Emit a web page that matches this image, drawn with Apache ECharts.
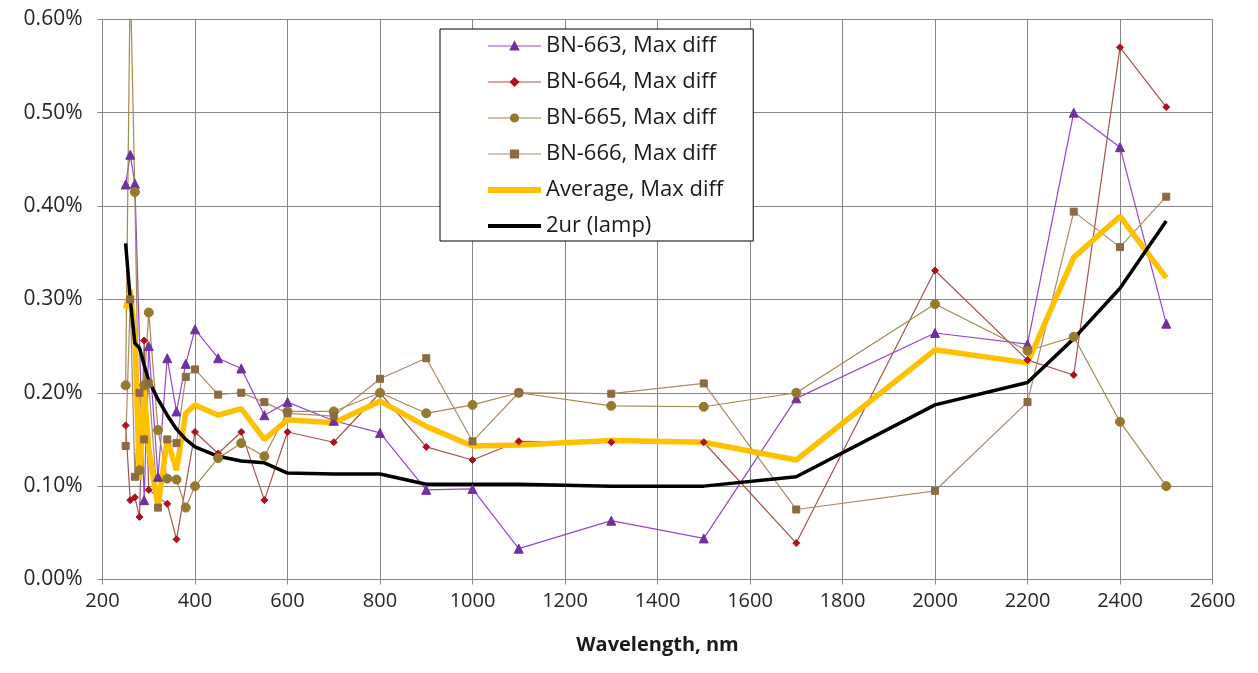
<!DOCTYPE html>
<html>
<head>
<meta charset="utf-8">
<script src="https://cdn.jsdelivr.net/npm/echarts@6/dist/echarts.min.js"></script>
<style>
  html, body { margin: 0; padding: 0; background: #fff; }
  #chart { width: 1258px; height: 673px; }
</style>
</head>
<body>
<div id="chart"></div>
<script>
// wavelengths (nm), shared by every series
const wavelengths = [250, 260, 270, 280, 290, 300, 320, 340, 360, 380,
  400, 450, 500, 550, 600, 700, 800, 900, 1000, 1100,
  1300, 1500, 1700, 2000, 2200, 2300, 2400, 2500];

// values in %
const bn663 = [0.423, 0.455, 0.424, null, 0.085, 0.250, 0.110, 0.237, 0.180, 0.231,
  0.268, 0.237, 0.226, 0.176, 0.190, 0.170, 0.157, 0.096, 0.097, 0.033,
  0.063, 0.044, 0.194, 0.264, 0.252, 0.500, 0.463, 0.274];
const bn664 = [0.165, 0.085, 0.088, 0.067, 0.256, 0.096, null, 0.081, 0.043, null,
  0.158, 0.135, 0.158, 0.085, 0.158, 0.147, 0.200, 0.142, 0.128, 0.148,
  0.147, 0.147, 0.039, 0.331, 0.235, 0.219, 0.570, 0.506];
const bn665 = [0.208, 0.650, 0.415, 0.117, 0.208, 0.286, 0.160, 0.108, 0.107, 0.077,
  0.100, 0.130, 0.146, 0.132, 0.180, 0.180, 0.200, 0.178, 0.187, 0.200,
  0.186, 0.185, 0.200, 0.295, 0.245, 0.260, 0.169, 0.100];
const bn666 = [0.143, 0.300, 0.110, 0.200, 0.150, 0.210, 0.077, 0.150, 0.146, 0.217,
  0.225, 0.198, 0.200, 0.190, 0.178, 0.175, 0.215, 0.237, 0.148, 0.200,
  0.199, 0.210, 0.075, 0.095, 0.190, 0.394, 0.356, 0.410];
const avgDiff = [0.290, 0.310, 0.260, 0.107, 0.203, 0.140, 0.078, 0.150, 0.117, 0.178,
  0.187, 0.176, 0.183, 0.150, 0.171, 0.168, 0.191, 0.164, 0.143, 0.144,
  0.149, 0.147, 0.128, 0.246, 0.232, 0.345, 0.389, 0.323];
const lamp2ur = [0.360, 0.300, 0.253, 0.248, 0.230, 0.213, 0.193, 0.176, 0.161, 0.150,
  0.142, 0.132, 0.127, 0.125, 0.114, 0.113, 0.113, 0.102, 0.102, 0.102,
  0.100, 0.100, 0.110, 0.187, 0.211, 0.258, 0.312, 0.384];

const FONT = '"Open Sans", "Liberation Sans", sans-serif';

function pairs(vals) {
  const out = [];
  wavelengths.forEach((w, i) => { if (vals[i] != null) out.push([w, vals[i]]); });
  return out;
}

function markerSeries(name, vals, symbol, size, lineColor, markColor) {
  return {
    name: name,
    type: 'line',
    data: pairs(vals),
    symbol: symbol,
    symbolSize: size,
    showAllSymbol: true,
    lineStyle: { color: lineColor, width: 1.2 },
    itemStyle: { color: markColor, borderColor: markColor, borderWidth: 1 },
    emphasis: { disabled: true }
  };
}

const chart = echarts.init(document.getElementById('chart'));
const option = {
  backgroundColor: '#ffffff',
  animation: false,
  grid: { left: 102.5, right: 45.5, top: 19.3, bottom: 93.5, containLabel: false, outerBoundsMode: 'none' },
  legend: {
    orient: 'vertical',
    left: 440,
    top: 29,
    padding: [6, 30, 4, 45],
    itemWidth: 53,
    itemHeight: 9,
    itemGap: 14,
    backgroundColor: '#ffffff',
    borderColor: '#000000',
    borderWidth: 1,
    borderRadius: 0,
    textStyle: { fontFamily: FONT, fontSize: 22, color: '#1a1a1a', lineHeight: 22 },
    data: [
      { name: 'BN-663, Max diff', lineStyle: { width: 1.2 } },
      { name: 'BN-664, Max diff', lineStyle: { width: 1.2 } },
      { name: 'BN-665, Max diff', lineStyle: { width: 1.2 } },
      { name: 'BN-666, Max diff', lineStyle: { width: 1.2 } },
      { name: 'Average, Max diff', itemStyle: { opacity: 0 }, lineStyle: { width: 6 } },
      { name: '2ur (lamp)', itemStyle: { opacity: 0 }, lineStyle: { width: 4 } }
    ]
  },
  xAxis: {
    type: 'value',
    min: 200,
    max: 2600,
    interval: 200,
    name: 'Wavelength, nm',
    nameLocation: 'middle',
    nameGap: 56,
    nameTextStyle: { fontFamily: FONT, fontSize: 20, fontWeight: 'bold', color: '#1a1a1a' },
    axisLine: { show: true, lineStyle: { color: '#868686', width: 1 } },
    axisTick: { show: true, length: 5, lineStyle: { color: '#868686' } },
    axisLabel: { fontFamily: FONT, fontSize: 20, color: '#262626', margin: 12, formatter: v => String(v) },
    splitLine: { show: true, lineStyle: { color: '#868686', width: 1 } }
  },
  yAxis: {
    type: 'value',
    min: 0,
    max: 0.6,
    interval: 0.1,
    axisLine: { show: true, lineStyle: { color: '#868686', width: 1 } },
    axisTick: { show: true, length: 5, lineStyle: { color: '#868686' } },
    axisLabel: {
      fontFamily: FONT, fontSize: 21, color: '#262626', margin: 20,
      formatter: v => v.toFixed(2) + '%'
    },
    splitLine: { show: true, lineStyle: { color: '#868686', width: 1 } }
  },
  series: [
    markerSeries('BN-663, Max diff', bn663, 'triangle', 9, '#9346D0', '#7030A0'),
    markerSeries('BN-664, Max diff', bn664, 'diamond', 7, '#A3544E', '#B0101E'),
    markerSeries('BN-665, Max diff', bn665, 'circle', 9, '#A4894E', '#957A2C'),
    markerSeries('BN-666, Max diff', bn666, 'rect', 7, '#A88B6B', '#8C6A43'),
    {
      name: 'Average, Max diff',
      type: 'line',
      data: pairs(avgDiff),
      symbol: 'none',
      lineStyle: { color: '#FFC000', width: 5.5 },
      itemStyle: { color: '#FFC000' },
      emphasis: { disabled: true }
    },
    {
      name: '2ur (lamp)',
      type: 'line',
      data: pairs(lamp2ur),
      symbol: 'none',
      lineStyle: { color: '#000000', width: 3.5 },
      itemStyle: { color: '#000000' },
      emphasis: { disabled: true }
    }
  ]
};
chart.setOption(option);
window.onresize = chart.resize;
</script>
</body>
</html>
